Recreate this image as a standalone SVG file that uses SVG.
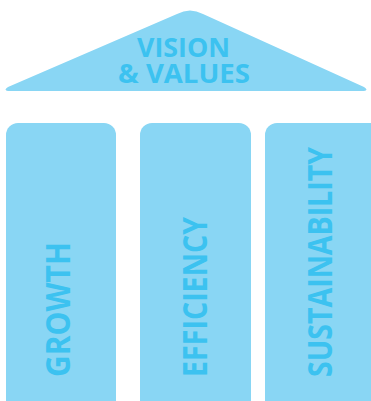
<svg xmlns="http://www.w3.org/2000/svg" width="371" height="401" viewBox="0 0 371 401">
<style>
.shape{fill:#89D6F4}
.lbl{fill:#3CC2F0;font-family:"Open Sans","Liberation Sans",sans-serif;font-weight:bold}
</style>
<rect width="371" height="401" fill="#ffffff"/>
<g id="roof">
<path class="shape" d="M 8,91 Q 3,90 8,87 L 177,14 Q 190,7 203,14 L 364,87 Q 369,90 364,91 Z"/>
<text class="lbl" x="183.5" y="57" font-size="27" text-anchor="middle" textLength="93" lengthAdjust="spacingAndGlyphs">VISION</text>
<text class="lbl" x="184" y="83" font-size="27" text-anchor="middle" textLength="132" lengthAdjust="spacingAndGlyphs">&amp; VALUES</text>
</g>
<g id="growth">
<rect class="shape" x="6" y="123" width="110" height="290" rx="12"/>
<text class="lbl" transform="translate(70,377) rotate(-90)" font-size="34" textLength="135" lengthAdjust="spacingAndGlyphs">GROWTH</text>
</g>
<g id="efficiency">
<rect class="shape" x="140" y="123" width="111" height="290" rx="12"/>
<text class="lbl" transform="translate(207,377) rotate(-90)" font-size="34" textLength="160" lengthAdjust="spacingAndGlyphs">EFFICIENCY</text>
</g>
<g id="sustainability">
<rect class="shape" x="265" y="123" width="120" height="290" rx="12"/>
<text class="lbl" transform="translate(332,377) rotate(-90)" font-size="34" textLength="230" lengthAdjust="spacingAndGlyphs">SUSTAINABILITY</text>
</g>
<g id="connectors"></g>
</svg>
